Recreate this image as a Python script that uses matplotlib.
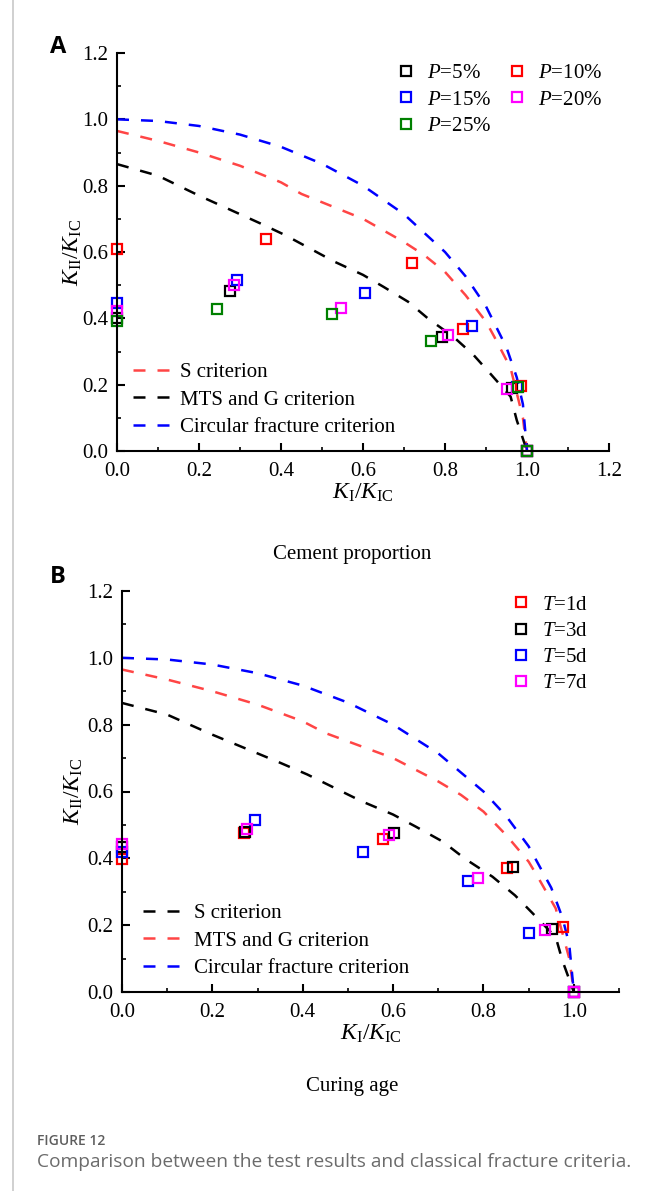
import matplotlib
matplotlib.use('Agg')
import matplotlib.pyplot as plt
from matplotlib.ticker import MultipleLocator
from matplotlib.lines import Line2D

plt.rcParams['font.family'] = 'Liberation Serif'
plt.rcParams['mathtext.fontset'] = 'custom'
plt.rcParams['mathtext.rm'] = 'Liberation Serif'
plt.rcParams['mathtext.it'] = 'Liberation Serif:italic'

# ---- criterion curves ----
s_x = [0, 0.1, 0.2, 0.3, 0.4, 0.45, 0.5, 0.6, 0.7, 0.75, 0.8, 0.85, 0.9, 0.92, 0.96, 0.99, 1.0]
s_y = [0.965, 0.935, 0.90, 0.86, 0.81, 0.775, 0.75, 0.70, 0.63, 0.59, 0.54, 0.47, 0.39, 0.345, 0.25, 0.10, 0.0]
mts_x = [0.0, 0.1, 0.2, 0.35, 0.41, 0.53, 0.6, 0.65, 0.71, 0.76, 0.82, 0.87, 0.91, 0.96, 0.975, 1.0]
mts_y = [0.865, 0.83, 0.77, 0.686, 0.651, 0.571, 0.531, 0.495, 0.45, 0.398, 0.345, 0.289, 0.234, 0.164, 0.093, 0.0]
circ_x = [0, 0.1, 0.2, 0.3, 0.4, 0.5, 0.6, 0.7, 0.8, 0.85, 0.9, 0.95, 0.975, 0.99, 1.0]
circ_y = [1.0, 0.995, 0.98, 0.954, 0.917, 0.866, 0.80, 0.714, 0.60, 0.527, 0.436, 0.312, 0.222, 0.141, 0.0]

# ---- panel A: cement proportion ----
p5_x = [0, 0.276, 0.793, 0.964, 1.0]
p5_y = [0.40, 0.482, 0.344, 0.191, 0.0]
p10_x = [0, 0.363, 0.720, 0.843, 0.985, 1.0]
p10_y = [0.61, 0.638, 0.567, 0.367, 0.195, 0.0]
p15_x = [0, 0.293, 0.605, 0.867, 0.975, 1.0]
p15_y = [0.445, 0.515, 0.475, 0.376, 0.192, 0.0]
p20_x = [0, 0.285, 0.546, 0.808, 0.950, 1.0]
p20_y = [0.423, 0.500, 0.430, 0.350, 0.188, 0.0]
p25_x = [0, 0.245, 0.525, 0.766, 0.978, 1.0]
p25_y = [0.393, 0.428, 0.412, 0.332, 0.193, 0.0]

# ---- panel B: curing age ----
t1_x = [0, 0.269, 0.577, 0.853, 0.976, 1.0]
t1_y = [0.397, 0.475, 0.457, 0.370, 0.195, 0.0]
t3_x = [0, 0.272, 0.603, 0.866, 0.951, 1.0]
t3_y = [0.435, 0.480, 0.475, 0.375, 0.188, 0.0]
t5_x = [0, 0.294, 0.533, 0.765, 0.901, 1.0]
t5_y = [0.420, 0.515, 0.420, 0.332, 0.177, 0.0]
t7_x = [0, 0.276, 0.592, 0.788, 0.937, 1.0]
t7_y = [0.442, 0.487, 0.470, 0.342, 0.185, 0.0]

RED_L = '#ff4545'
W, H = 656, 1191
fig = plt.figure(figsize=(W / 100, H / 100), dpi=100)

def style_axes(ax, xmax, xpad, ypad):
    ax.set_xlim(0, xmax)
    ax.set_ylim(0, 1.2)
    ax.xaxis.set_major_locator(MultipleLocator(0.2))
    ax.xaxis.set_minor_locator(MultipleLocator(0.1))
    ax.yaxis.set_major_locator(MultipleLocator(0.2))
    ax.yaxis.set_minor_locator(MultipleLocator(0.1))
    ax.xaxis.set_major_formatter(plt.FormatStrFormatter('%.1f'))
    ax.yaxis.set_major_formatter(plt.FormatStrFormatter('%.1f'))
    ax.spines['top'].set_visible(False)
    ax.spines['right'].set_visible(False)
    for s in ['left', 'bottom']:
        ax.spines[s].set_linewidth(1.5)
    ax.tick_params(which='major', direction='in', length=6, width=1.5, labelsize=15)
    ax.tick_params(axis='x', which='major', pad=8)
    ax.tick_params(axis='y', which='major', pad=6)
    ax.tick_params(which='minor', direction='in', length=3, width=1.2)
    ax.set_xlabel(r'$K_{\mathrm{I}}/K_{\mathrm{IC}}$', fontsize=17, labelpad=xpad)
    ax.set_ylabel(r'$K_{\mathrm{II}}/K_{\mathrm{IC}}$', fontsize=17, labelpad=ypad)

def sq(ax, x, y, c, label):
    return ax.plot(x, y, 's', ms=7.5, mfc='none', mec=c, mew=1.6, ls='none',
                   label=label, clip_on=False)[0]

dash = (0, (4.8, 4.8))
LW = 1.8

# ---------- panel A ----------
axA = fig.add_axes([117 / W, 1 - 451 / H, (609 - 117) / W, (451 - 53) / H])
style_axes(axA, 1.2, 0.5, -1)
lA1, = axA.plot(s_x, s_y, color=RED_L, lw=LW, ls=dash, label='S criterion')
lA2, = axA.plot(mts_x, mts_y, color='black', lw=LW, ls=dash, label='MTS and G criterion')
lA3, = axA.plot(circ_x, circ_y, color='blue', lw=LW, ls=dash, label='Circular fracture criterion')
h5 = sq(axA, p5_x, p5_y, 'black', '$P$=5%')
h10 = sq(axA, p10_x, p10_y, 'red', '$P$=10%')
h15 = sq(axA, p15_x, p15_y, 'blue', '$P$=15%')
h20 = sq(axA, p20_x, p20_y, 'magenta', '$P$=20%')
h25 = sq(axA, p25_x, p25_y, 'green', '$P$=25%')
legA1 = axA.legend(handles=[h5, h15, h25, h10, h20], ncol=2, loc='upper left',
                   bbox_to_anchor=(0.566, 0.973), frameon=False, fontsize=15,
                   handlelength=1.0, handletextpad=0.5, columnspacing=0.75,
                   labelspacing=0.32, borderpad=0, borderaxespad=0)
axA.add_artist(legA1)
axA.legend(handles=[lA1, lA2, lA3], loc='lower left', bbox_to_anchor=(0.0325, 0.034),
           frameon=False, fontsize=15, handlelength=1.9, handletextpad=0.35,
           labelspacing=0.39, borderpad=0, borderaxespad=0)
fig.text(352 / W, 1 - 555 / H, 'Cement proportion', ha='center', va='center', fontsize=15)

# ---------- panel B ----------
axB = fig.add_axes([122 / W, 1 - 992 / H, (619 - 122) / W, (992 - 591) / H])
style_axes(axB, 1.1, 0.5, 2)
lB1, = axB.plot(mts_x, mts_y, color='black', lw=LW, ls=dash, label='S criterion')
lB2, = axB.plot(s_x, s_y, color=RED_L, lw=LW, ls=dash, label='MTS and G criterion')
lB3, = axB.plot(circ_x, circ_y, color='blue', lw=LW, ls=dash, label='Circular fracture criterion')
g1 = sq(axB, t1_x, t1_y, 'red', '$T$=1d')
g3 = sq(axB, t3_x, t3_y, 'black', '$T$=3d')
g5 = sq(axB, t5_x, t5_y, 'blue', '$T$=5d')
g7 = sq(axB, t7_x, t7_y, 'magenta', '$T$=7d')
legB1 = axB.legend(handles=[g1, g3, g5, g7], loc='upper left', bbox_to_anchor=(0.782, 0.99),
                   frameon=False, fontsize=15, handlelength=1.0, handletextpad=0.5,
                   labelspacing=0.32, borderpad=0, borderaxespad=0)
axB.add_artist(legB1)
axB.legend(handles=[lB1, lB2, lB3], loc='lower left', bbox_to_anchor=(0.042, 0.034),
           frameon=False, fontsize=15, handlelength=1.9, handletextpad=0.55,
           labelspacing=0.39, borderpad=0, borderaxespad=0)
fig.text(352 / W, 1 - 1087 / H, 'Curing age', ha='center', va='center', fontsize=15)

# panel letters
fig.text(58 / W, 1 - 47 / H, 'A', fontsize=17, fontweight='bold', family='Open Sans',
         ha='center', va='center')
fig.text(58 / W, 1 - 577 / H, 'B', fontsize=17, fontweight='bold', family='Open Sans',
         ha='center', va='center')

# caption
fig.text(37 / W, 1 - 1141 / H, 'FIGURE 12', fontsize=10, color='#5e5e5e',
         family='Open Sans', fontweight='semibold', ha='left', va='center')
fig.text(37 / W, 1 - 1162 / H, 'Comparison between the test results and classical fracture criteria.',
         fontsize=13.8, color='#6b6b6b', family='Open Sans', ha='left', va='center')

# card border at left
fig.add_artist(Line2D([13 / W, 13 / W], [0, 1], transform=fig.transFigure,
                      color='#c8c8c8', lw=1.2))

fig.savefig('out.png', dpi=100)
